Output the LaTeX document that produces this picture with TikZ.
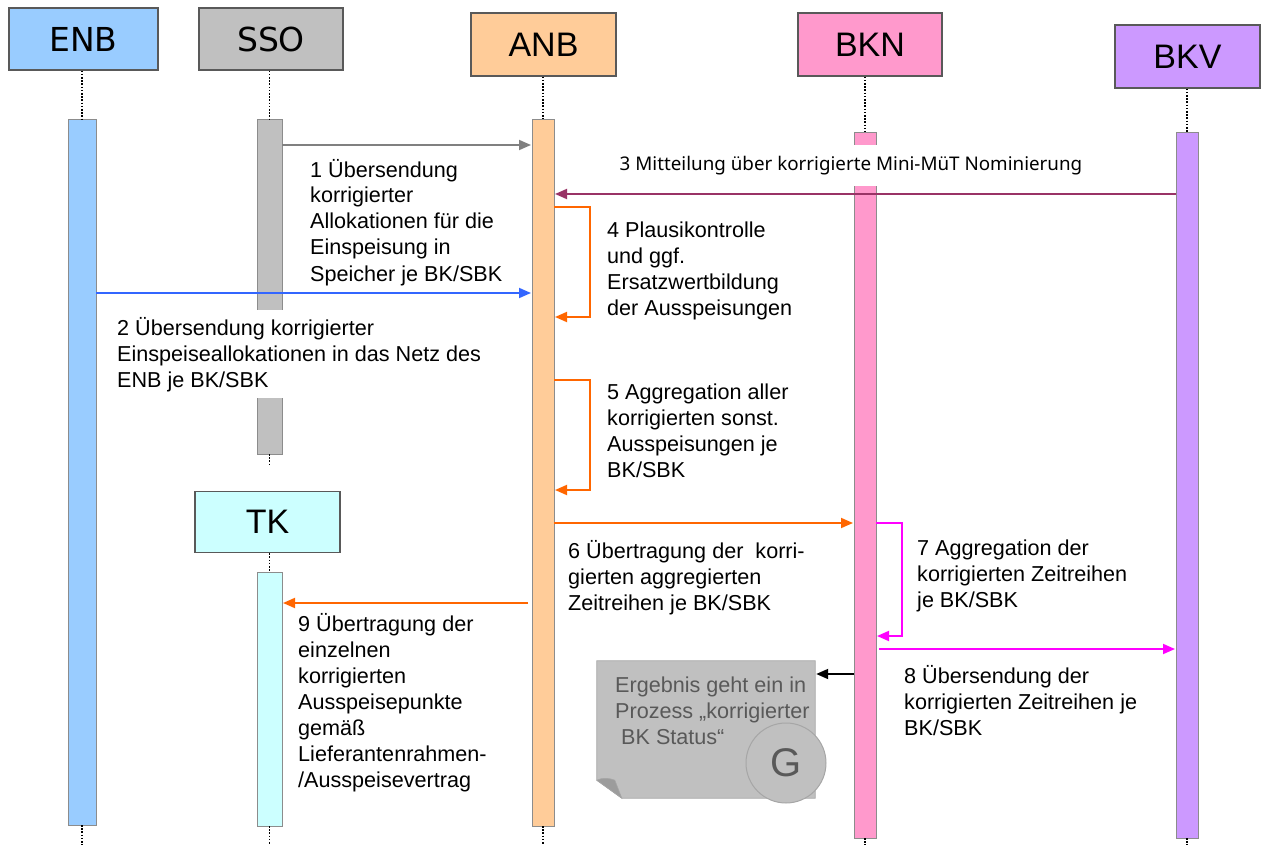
\documentclass[tikz,border=0pt]{standalone}
\usepackage{fontspec}
\setmainfont{Liberation Sans}
\newfontfamily\hdrfont{DejaVu Sans}
\newfontfamily\msgfont{Noto Sans}
\usetikzlibrary{arrows.meta}
\definecolor{enbc}{HTML}{99CCFF}
\definecolor{ssoc}{HTML}{C0C0C0}
\definecolor{anbc}{HTML}{FFCC99}
\definecolor{bknc}{HTML}{FF99CC}
\definecolor{bkvc}{HTML}{CC99FF}
\definecolor{tkc}{HTML}{CCFFFF}
\definecolor{arrgray}{HTML}{808080}
\definecolor{arrblue}{HTML}{3366FF}
\definecolor{arrplum}{HTML}{993366}
\definecolor{arrorange}{HTML}{FF6600}
\definecolor{arrmag}{HTML}{FF00FF}
\definecolor{notefill}{HTML}{C0C0C0}
\definecolor{noteedge}{HTML}{A6A6A6}
\definecolor{notefold}{HTML}{9C9C9C}
\definecolor{notetext}{HTML}{595959}
\begin{document}
\begin{tikzpicture}[x=1pt,y=-1pt,
  head/.style={draw=black!65, line width=1.2pt, minimum width=145pt,
    minimum height=63pt, inner sep=0pt,
    font=\fontsize{34}{38}\selectfont},
  hdrsans/.style={font=\hdrfont\fontsize{33}{38}\selectfont},
  bar/.style={draw=black!45, line width=0.9pt, inner sep=0pt, outer sep=0pt,
    anchor=north},
  life/.style={line width=1.8pt, dash pattern=on 1.6pt off 1.6pt},
  msg/.style={line width=1.8pt, -{Triangle[length=12pt,width=10pt]}, shorten >=1pt},
  lbl/.style={anchor=base west, align=left, inner sep=0pt,
    font=\fontsize{21.6}{26}\selectfont},
]
\useasboundingbox (0,0) rectangle (1267,845);
\coordinate (bottom) at (0,845);

% participant heads
\node[head, hdrsans, fill=enbc, minimum width=149pt, minimum height=62pt] (enbHead) at (83.5,39) {ENB};
\node[head, hdrsans, fill=ssoc, minimum width=144pt, minimum height=62pt] (ssoHead) at (271,39) {SSO};
\node[head, fill=anbc] (anbHead) at (543.5,44.5) {ANB};
\node[head, fill=bknc, minimum width=144pt] (bknHead) at (870,44.5) {BKN};
\node[head, fill=bkvc] (bkvHead) at (1187.5,56.5) {BKV};
\node[head, fill=tkc, minimum height=61pt] (tkHead) at (267.5,522) {TK};

% activation bars
\node[bar, fill=enbc, minimum width=28pt, minimum height=706pt] (enbBar) at (82,119) {};
\node[bar, fill=ssoc, minimum width=25pt, minimum height=335pt] (ssoBar) at (269.5,119) {};
\node[bar, fill=anbc, minimum width=22pt, minimum height=707pt] (anbBar) at (543,119) {};
\node[bar, fill=bknc, minimum width=22pt, minimum height=706pt] (bknBar) at (865,132) {};
\node[bar, fill=bkvc, minimum width=22pt, minimum height=706pt] (bkvBar) at (1187,132) {};
\node[bar, fill=tkc, minimum width=25pt, minimum height=254pt] (tkBar) at (269.5,572) {};

% lifelines
\foreach \p in {enb,sso,anb,bkn,bkv,tk}
  \draw[life] (\p Head.south -| \p Bar.north) -- (\p Bar.north);
\foreach \p in {enb,anb,bkn,bkv,tk}
  \draw[life] (\p Bar.south) -- (\p Bar.south |- bottom);
\draw[life] (ssoBar.south) -- ++(0,12);

% message rows
\coordinate (r1) at (0,145);
\coordinate (r3) at (0,194);
\coordinate (r4a) at (0,207);
\coordinate (r4b) at (0,317);
\coordinate (r2) at (0,293);
\coordinate (r5a) at (0,380);
\coordinate (r5b) at (0,490);
\coordinate (r6) at (0,523);
\coordinate (r7a) at (0,523);
\coordinate (r7b) at (0,636);
\coordinate (r9) at (0,603);
\coordinate (r8) at (0,649);
\coordinate (r10) at (0,674);

% labels are placed by the baseline of their last line
% 1
\draw[msg, arrgray] (ssoBar.east |- r1) -- (anbBar.west |- r1);
\node[lbl] (l1) at (310,281) {1 Übersendung\\korrigierter\\Allokationen für die\\Einspeisung in\\Speicher je BK/SBK};
% 2 (its white ground hides the SSO bar behind it)
\draw[msg, arrblue] (enbBar.east |- r2) -- (anbBar.west |- r2);
\node[lbl, fill=white, inner sep=7pt] (l2) at (110,387) {2 Übersendung korrigierter\\Einspeiseallokationen in das Netz des\\ENB je BK/SBK};
% 3
\draw[msg, arrplum] (bkvBar.west |- r3) -- (anbBar.east |- r3);
\node[fill=white, inner xsep=6pt, inner ysep=0pt, minimum height=41pt,
  font=\msgfont\fontsize{18.8}{22}\selectfont] (l3) at (851,165.5)
  {3 Mitteilung über korrigierte Mini-MüT Nominierung};
% 4
\draw[msg, arrorange] (anbBar.east |- r4a) -- ++(36,0) |- (anbBar.east |- r4b);
\node[lbl] (l4) at (607,316) {4 Plausikontrolle\\und ggf.\\Ersatzwertbildung\\der Ausspeisungen};
% 5
\draw[msg, arrorange] (anbBar.east |- r5a) -- ++(36,0) |- (anbBar.east |- r5b);
\node[lbl] (l5) at (607,477) {5 Aggregation aller\\korrigierten sonst.\\Ausspeisungen je\\BK/SBK};
% 6
\draw[msg, arrorange] (anbBar.east |- r6) -- (bknBar.west |- r6);
\node[lbl] (l6) at (568,610) {6 Übertragung der\ \ korri-\\gierten aggregierten\\Zeitreihen je BK/SBK};
% 7
\draw[msg, arrmag] (bknBar.east |- r7a) -- ++(26,0) |- (bknBar.east |- r7b);
\node[lbl] (l7) at (917,607) {7 Aggregation der\\korrigierten Zeitreihen\\je BK/SBK};
% 8
\draw[msg, arrmag] ([xshift=3pt]bknBar.east |- r8) -- (bkvBar.west |- r8);
\node[lbl] (l8) at (904,735) {8 Übersendung der\\korrigierten Zeitreihen je\\BK/SBK};
% 9
\draw[msg, arrorange] ([xshift=-4pt]anbBar.west |- r9) -- (tkBar.east |- r9);
\node[lbl] (l9) at (298,787) {9 Übertragung der\\einzelnen\\korrigierten\\Ausspeisepunkte\\gemäß\\Lieferantenrahmen-\\/Ausspeisevertrag};

% result note with folded corner
\node[minimum width=218pt, minimum height=137pt, inner sep=0pt] (note) at (706,729.5) {};
\path[fill=notefill, draw=noteedge, line width=0.8pt]
  (note.north west) -- (note.north east) -- (note.south east)
  -- ([xshift=25pt]note.south west) -- ([yshift=18pt]note.south west) -- cycle;
\path[fill=notefold, draw=noteedge, line width=0.6pt]
  ([yshift=18pt]note.south west) .. controls ++(6,-3) and ++(-5,-2) .. ([xshift=18pt,yshift=18pt]note.south west)
  -- ([xshift=25pt]note.south west) -- cycle;
\node[circle, fill=notefill, draw=noteedge, line width=1pt, minimum size=80pt,
  inner sep=0pt, text=notetext, font=\fontsize{40}{44}\selectfont] (gmark) at (786,763) {G};
\node[lbl, text=notetext] (noteText) at (615,744) {Ergebnis geht ein in\\Prozess „korrigierter\\\ BK Status“};
% 10
\draw[msg, black] (bknBar.west |- r10) -- (note.east |- r10);
\end{tikzpicture}
\end{document}
